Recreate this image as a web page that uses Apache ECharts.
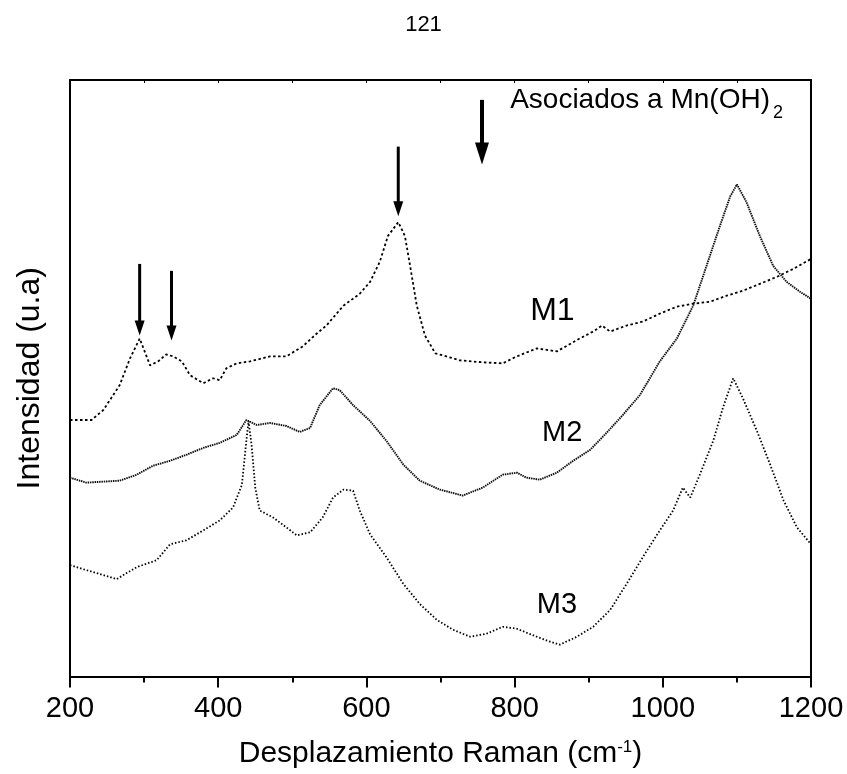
<!DOCTYPE html>
<html>
<head>
<meta charset="utf-8">
<script src="https://cdn.jsdelivr.net/npm/echarts@6/dist/echarts.min.js"></script>
<style>
html,body{margin:0;padding:0;background:#fff;}
#chart{width:847px;height:774px;}
</style>
</head>
<body>
<div id="chart"></div>
<script>
// Raman shift (cm-1) and relative intensity (a.u., offset-stacked as in the figure)
const m1Shift = [200,229,245,267,281,294,308,319,330,339,351,362,380,393,402,411,425,443,470,492,514,533,546,569,591,605,618,629,643,652,659,668,679,693,708,726,757,784,803,830,857,888,906,918,929,951,973,996,1019,1041,1064,1086,1108,1131,1154,1176,1200];
const m1Int   = [258,258,268,293,320,340,313,317,324,322,317,303,295,300,298,310,315,317,322,322,332,345,353,373,385,397,417,443,457,443,413,373,343,325,322,318,316,315,322,330,327,340,347,353,347,353,357,365,372,375,377,383,388,395,402,410,420];

const m2Shift = [200,222,245,267,290,312,335,357,380,402,425,438,452,470,492,510,524,537,555,564,582,605,627,650,672,699,730,757,784,803,816,834,857,879,902,924,946,969,996,1019,1041,1059,1077,1091,1100,1113,1131,1149,1167,1185,1200];
const m2Int   = [200,195,196,197,203,212,217,223,230,235,243,258,253,255,252,246,250,273,290,288,273,257,237,213,197,188,182,190,203,205,200,198,205,217,228,245,263,283,317,340,373,413,453,483,495,477,443,413,397,387,380];

const m3Shift = [200,222,245,263,290,317,335,357,380,402,420,432,438,441,445,450,456,474,492,506,524,541,555,569,582,591,605,627,650,672,695,717,740,762,784,803,830,848,861,884,906,929,951,973,996,1014,1027,1037,1050,1068,1081,1095,1108,1127,1145,1163,1181,1200];
const m3Int   = [112,107,102,98,110,117,133,137,147,157,170,193,237,257,233,190,167,160,150,142,145,160,180,188,187,167,143,120,93,73,57,47,40,43,50,48,40,35,32,40,50,67,93,120,147,167,190,180,203,237,270,300,280,247,213,177,150,133];

// Arrow annotations (x position, top value, tip value)
const arrowShift = [294, 337, 643, 756];
const arrowTop   = [415, 408, 533, 580];
const arrowTip   = [343, 338, 463, 515];

const xTicks = [200, 400, 600, 800, 1000, 1200];

function pairs(xs, ys){ return xs.map((x,i)=>[x, ys[i]]); }

const FONT = '"Liberation Sans", Arial, Helvetica, sans-serif';
const chart = echarts.init(document.getElementById('chart'));

const option = {
  animation: false,
  backgroundColor: '#fff',
  grid: {left: 70, right: 36, top: 80, bottom: 94},
  xAxis: [{
    type: 'value', min: xTicks[0], max: xTicks[xTicks.length-1], interval: 200,
    position: 'bottom',
    axisLine: {show: true, onZero: false, lineStyle: {color: '#000', width: 2}},
    axisTick: {show: true, inside: false, length: 11, lineStyle: {color: '#000', width: 2}},
    minorTick: {show: true, splitNumber: 2, length: 6, lineStyle: {color: '#000', width: 2}},
    splitLine: {show: false},
    axisLabel: {color: '#000', fontSize: 29, fontFamily: FONT, margin: 18, formatter: v => String(v)},
    name: 'Desplazamiento Raman (cm{sup|-1})',
    nameLocation: 'middle', nameGap: 62,
    nameTextStyle: {color: '#000', fontSize: 30, fontFamily: FONT,
      rich: {sup: {fontSize: 17, fontFamily: FONT, color: '#000', verticalAlign: 'top', padding: [0,0,14,0]}}}
  },{
    type: 'value', min: 200, max: 1200, interval: 100, position: 'top',
    axisLine: {show: true, onZero: false, lineStyle: {color: '#000', width: 2}},
    axisTick: {show: true, inside: true, length: 3, lineStyle: {color: '#000', width: 1}},
    axisLabel: {show: false}, splitLine: {show: false}
  }],
  yAxis: [{
    type: 'value', min: 0, max: 600, position: 'left',
    axisLine: {show: true, onZero: false, lineStyle: {color: '#000', width: 2}},
    axisTick: {show: false}, axisLabel: {show: false}, splitLine: {show: false},
    name: 'Intensidad (u.a)', nameLocation: 'middle', nameGap: 24,
    nameTextStyle: {color: '#000', fontSize: 32, fontFamily: FONT}
  },{
    type: 'value', min: 0, max: 600, position: 'right',
    axisLine: {show: true, onZero: false, lineStyle: {color: '#000', width: 2}},
    axisTick: {show: false}, axisLabel: {show: false}, splitLine: {show: false}
  }],
  series: [
    {name: 'M1', type: 'line', data: pairs(m1Shift, m1Int), showSymbol: false, symbol: 'none',
      lineStyle: {color: '#000', width: 1.8, type: [2.5, 2.5]}},
    {name: 'M2', type: 'line', data: pairs(m2Shift, m2Int), showSymbol: false, symbol: 'none',
      lineStyle: {color: '#111', width: 1.9, type: [1.5, 0.8]}},
    {name: 'M3', type: 'line', data: pairs(m3Shift, m3Int), showSymbol: false, symbol: 'none',
      lineStyle: {color: '#000', width: 1.8, type: [1.5, 2]}}
  ]
};
chart.setOption(option);

function px(x, y){ return chart.convertToPixel({gridIndex: 0}, [x, y]); }

const g = [];
// page number
g.push({type: 'text', left: 'center', top: 14,
  style: {text: '121', fontSize: 22, fontFamily: FONT, fill: '#000'}});

// arrows
arrowShift.forEach((x, i) => {
  const big = i === 3;
  const p0 = px(x, arrowTop[i]);
  const p1 = px(x, arrowTip[i]);
  const headL = big ? 22 : 15;
  const headW = big ? 7 : 5;
  g.push({type: 'line', shape: {x1: p0[0], y1: p0[1], x2: p1[0], y2: p1[1] - headL + 2},
    style: {stroke: '#000', lineWidth: big ? 4 : 3}});
  g.push({type: 'polygon', shape: {points: [[p1[0]-headW, p1[1]-headL], [p1[0]+headW, p1[1]-headL], [p1[0], p1[1]]]},
    style: {fill: '#000'}});
});

// sample labels
const lbl = [['M1', 821, 351, 32], ['M2', 837, 230, 29], ['M3', 830, 57, 29]];
lbl.forEach(l => {
  const p = px(l[1], l[2]);
  g.push({type: 'text', x: p[0], y: p[1],
    style: {text: l[0], fontSize: l[3], fontFamily: FONT, fill: '#000', align: 'left', verticalAlign: 'bottom'}});
});

// assignment text with subscript
const mainTxt = 'Asociados a Mn(OH)';
const mainSize = 28;
const ctx = document.createElement('canvas').getContext('2d');
ctx.font = mainSize + 'px "Liberation Sans", Arial, sans-serif';
const mainW = ctx.measureText(mainTxt).width;
const pa = px(794, 572);
g.push({type: 'text', x: pa[0], y: pa[1] + 6,
  style: {text: mainTxt, fontSize: mainSize, fontFamily: FONT, fill: '#000', align: 'left', verticalAlign: 'bottom'}});
g.push({type: 'text', x: pa[0] + mainW + 3, y: pa[1] + 14,
  style: {text: '2', fontSize: 18, fontFamily: FONT, fill: '#000', align: 'left', verticalAlign: 'bottom'}});

chart.setOption({graphic: g});
</script>
</body>
</html>
